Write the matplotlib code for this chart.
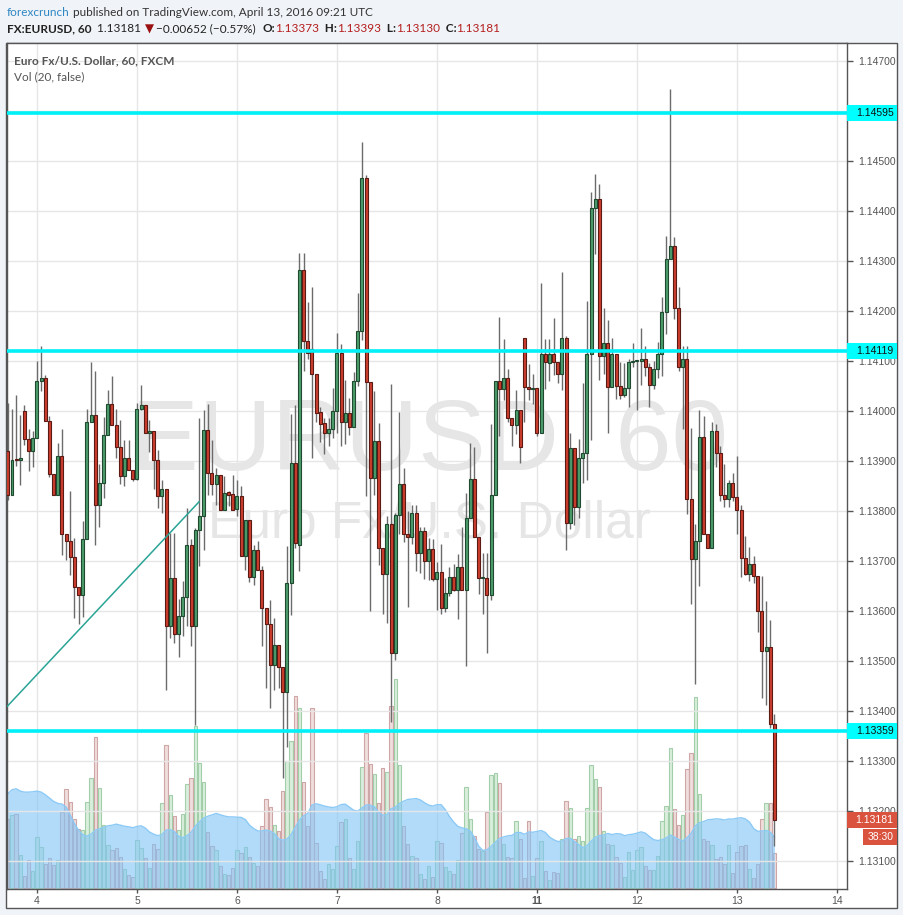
import matplotlib
matplotlib.use("Agg")
import matplotlib.pyplot as plt
import numpy as np
import pandas as pd
from matplotlib.patches import Rectangle
from matplotlib.transforms import blended_transform_factory

# EURUSD 60 min candles, Apr 3 17:00 .. Apr 13 09:00 UTC (weekend skipped)
opens = [1.13919, 1.13831, 1.13902, 1.13901, 1.14000, 1.13943, 1.13919, 1.13945, 1.14060, 1.14065,
         1.13980, 1.13873, 1.13831, 1.13910, 1.13753, 1.13739, 1.13707, 1.13647, 1.13631, 1.13743,
         1.13977, 1.13992, 1.13811, 1.13855, 1.13952, 1.14014, 1.13971, 1.13927, 1.13869, 1.13905,
         1.13882, 1.13863, 1.14004, 1.14012, 1.13955, 1.13959, 1.13901, 1.13829, 1.13843, 1.13570,
         1.13665, 1.13553, 1.13590, 1.13627, 1.13732, 1.13570, 1.13761, 1.13789, 1.13962, 1.13875,
         1.13853, 1.13872, 1.13801, 1.13837, 1.13834, 1.13803, 1.13829, 1.13709, 1.13782, 1.13667,
         1.13721, 1.13682, 1.13605, 1.13573, 1.13492, 1.13532, 1.13487, 1.13437, 1.13655, 1.13895,
         1.13732, 1.14282, 1.14139, 1.14123, 1.14074, 1.13997, 1.13975, 1.13956, 1.13963, 1.13999,
         1.14115, 1.13978, 1.13996, 1.13967, 1.14059, 1.14160, 1.14466, 1.14057, 1.13865, 1.13939,
         1.13725, 1.13673, 1.13773, 1.13515, 1.13792, 1.13854, 1.13753, 1.13747, 1.13795, 1.13716,
         1.13760, 1.13700, 1.13724, 1.13664, 1.13678, 1.13605, 1.13635, 1.13667, 1.13642, 1.13687,
         1.13642, 1.13785, 1.13863, 1.13747, 1.13665, 1.13665, 1.13631, 1.13831, 1.14059, 1.14044,
         1.14066, 1.13985, 1.13972, 1.14001, 1.14146, 1.14048, 1.14044, 1.14046, 1.13956, 1.14113,
         1.14096, 1.14114, 1.14098, 1.14073, 1.14145, 1.13776, 1.13925, 1.13807, 1.13905, 1.13915,
         1.14114, 1.14406, 1.14424, 1.14110, 1.14135, 1.14047, 1.14113, 1.14049, 1.14031, 1.14046,
         1.14098, 1.14100, 1.14100, 1.14103, 1.14088, 1.14051, 1.14083, 1.14114, 1.14197, 1.14303,
         1.14330, 1.14206, 1.14088, 1.14103, 1.13823, 1.13703, 1.13739, 1.13947, 1.13754, 1.13725,
         1.13959, 1.13915, 1.13831, 1.13823, 1.13856, 1.13827, 1.13801, 1.13705, 1.13674, 1.13694,
         1.13670, 1.13599, 1.13519, 1.13527, 1.13373]
highs = [1.14015, 1.14004, 1.14032, 1.13992, 1.14012, 1.13963, 1.13959, 1.14100, 1.14129, 1.14072,
         1.13989, 1.13873, 1.13935, 1.13963, 1.13753, 1.13840, 1.13745, 1.13647, 1.13780, 1.14004,
         1.14097, 1.14079, 1.13894, 1.13987, 1.14042, 1.14069, 1.14003, 1.13982, 1.13942, 1.13942,
         1.13882, 1.14015, 1.14052, 1.14012, 1.13982, 1.13959, 1.13922, 1.13862, 1.13843, 1.13755,
         1.13755, 1.13623, 1.13659, 1.13805, 1.13743, 1.13765, 1.13985, 1.14002, 1.14014, 1.13942,
         1.13885, 1.13872, 1.13869, 1.13839, 1.13872, 1.13862, 1.13849, 1.13782, 1.13782, 1.13732,
         1.13739, 1.13689, 1.13605, 1.13622, 1.13585, 1.13532, 1.13487, 1.13729, 1.13994, 1.14012,
         1.14316, 1.14315, 1.14217, 1.14248, 1.14074, 1.14007, 1.13985, 1.13985, 1.14045, 1.14155,
         1.14134, 1.14061, 1.14025, 1.14078, 1.14235, 1.14538, 1.14472, 1.14057, 1.14039, 1.13975,
         1.13725, 1.13790, 1.14054, 1.13796, 1.13997, 1.13885, 1.13800, 1.13811, 1.13811, 1.13767,
         1.13767, 1.13745, 1.13743, 1.13698, 1.13734, 1.13665, 1.13687, 1.13694, 1.13713, 1.13767,
         1.13836, 1.13936, 1.13928, 1.13747, 1.13716, 1.13716, 1.13974, 1.14059, 1.14188, 1.14143,
         1.14083, 1.13985, 1.14041, 1.14001, 1.14146, 1.14094, 1.14074, 1.14046, 1.14255, 1.14143,
         1.14144, 1.14186, 1.14098, 1.14277, 1.14149, 1.13956, 1.13925, 1.13943, 1.14055, 1.14219,
         1.14437, 1.14473, 1.14454, 1.14206, 1.14182, 1.14145, 1.14113, 1.14098, 1.14096, 1.14104,
         1.14135, 1.14100, 1.14166, 1.14129, 1.14096, 1.14100, 1.14137, 1.14228, 1.14349, 1.14644,
         1.14347, 1.14247, 1.14129, 1.14129, 1.13966, 1.13774, 1.14002, 1.13989, 1.13754, 1.13978,
         1.13974, 1.13929, 1.13894, 1.13861, 1.13876, 1.13910, 1.13812, 1.13750, 1.13727, 1.13710,
         1.13670, 1.13670, 1.13619, 1.13581, 1.13393]
lows = [1.13822, 1.13831, 1.13889, 1.13851, 1.13932, 1.13879, 1.13887, 1.13945, 1.14039, 1.13980,
        1.13867, 1.13831, 1.13831, 1.13711, 1.13702, 1.13671, 1.13585, 1.13574, 1.13587, 1.13743,
        1.13977, 1.13731, 1.13767, 1.13825, 1.13952, 1.13971, 1.13905, 1.13853, 1.13849, 1.13881,
        1.13859, 1.13862, 1.14002, 1.13955, 1.13917, 1.13843, 1.13805, 1.13795, 1.13441, 1.13545,
        1.13535, 1.13507, 1.13550, 1.13570, 1.13529, 1.13372, 1.13689, 1.13722, 1.13832, 1.13832,
        1.13812, 1.13801, 1.13801, 1.13809, 1.13802, 1.13789, 1.13709, 1.13682, 1.13657, 1.13652,
        1.13682, 1.13529, 1.13445, 1.13406, 1.13442, 1.13445, 1.13266, 1.13328, 1.13592, 1.13725,
        1.13680, 1.14079, 1.14104, 1.13905, 1.13978, 1.13938, 1.13914, 1.13930, 1.13945, 1.13956,
        1.13930, 1.13934, 1.13952, 1.13967, 1.14050, 1.14141, 1.13829, 1.13600, 1.13832, 1.13691,
        1.13594, 1.13575, 1.13377, 1.13502, 1.13753, 1.13738, 1.13607, 1.13734, 1.13680, 1.13676,
        1.13664, 1.13662, 1.13660, 1.13602, 1.13593, 1.13597, 1.13629, 1.13640, 1.13584, 1.13642,
        1.13490, 1.13785, 1.13747, 1.13633, 1.13594, 1.13515, 1.13622, 1.13831, 1.13950, 1.14021,
        1.13978, 1.13930, 1.13954, 1.13895, 1.13978, 1.14021, 1.14014, 1.13950, 1.13956, 1.14044,
        1.14060, 1.14072, 1.14055, 1.14041, 1.13721, 1.13763, 1.13772, 1.13785, 1.13856, 1.13861,
        1.13941, 1.14314, 1.14062, 1.14073, 1.13955, 1.14047, 1.14024, 1.14024, 1.14027, 1.14007,
        1.14088, 1.14002, 1.14051, 1.14070, 1.14008, 1.14043, 1.14065, 1.14070, 1.14153, 1.14303,
        1.14184, 1.14080, 1.13964, 1.13794, 1.13613, 1.13453, 1.13649, 1.13754, 1.13725, 1.13725,
        1.13888, 1.13819, 1.13807, 1.13807, 1.13819, 1.13754, 1.13668, 1.13672, 1.13660, 1.13656,
        1.13558, 1.13425, 1.13411, 1.13365, 1.13130]
closes = [1.13831, 1.13902, 1.13901, 1.13905, 1.13943, 1.13919, 1.13945, 1.14060, 1.14065, 1.13980,
          1.13873, 1.13831, 1.13910, 1.13753, 1.13739, 1.13707, 1.13647, 1.13631, 1.13743, 1.13977,
          1.13992, 1.13811, 1.13855, 1.13952, 1.14014, 1.13971, 1.13927, 1.13869, 1.13905, 1.13881,
          1.13863, 1.14004, 1.14012, 1.13955, 1.13960, 1.13901, 1.13829, 1.13843, 1.13570, 1.13665,
          1.13553, 1.13590, 1.13627, 1.13732, 1.13570, 1.13761, 1.13789, 1.13962, 1.13875, 1.13853,
          1.13872, 1.13801, 1.13835, 1.13832, 1.13802, 1.13829, 1.13709, 1.13782, 1.13667, 1.13721,
          1.13682, 1.13605, 1.13573, 1.13492, 1.13532, 1.13487, 1.13437, 1.13655, 1.13895, 1.13735,
          1.14282, 1.14139, 1.14115, 1.14074, 1.13996, 1.13974, 1.13956, 1.13963, 1.13999, 1.14115,
          1.13978, 1.13996, 1.13967, 1.14059, 1.14160, 1.14466, 1.14057, 1.13865, 1.13939, 1.13725,
          1.13673, 1.13773, 1.13515, 1.13792, 1.13854, 1.13753, 1.13747, 1.13795, 1.13716, 1.13760,
          1.13700, 1.13724, 1.13664, 1.13678, 1.13605, 1.13635, 1.13667, 1.13642, 1.13687, 1.13642,
          1.13785, 1.13863, 1.13747, 1.13665, 1.13665, 1.13631, 1.13831, 1.14059, 1.14044, 1.14066,
          1.13985, 1.13972, 1.14001, 1.13927, 1.14048, 1.14044, 1.14046, 1.13956, 1.14113, 1.14097,
          1.14114, 1.14098, 1.14073, 1.14145, 1.13776, 1.13925, 1.13807, 1.13905, 1.13915, 1.14114,
          1.14406, 1.14424, 1.14110, 1.14135, 1.14047, 1.14113, 1.14049, 1.14031, 1.14046, 1.14098,
          1.14100, 1.14100, 1.14103, 1.14088, 1.14051, 1.14083, 1.14114, 1.14197, 1.14303, 1.14330,
          1.14206, 1.14088, 1.14103, 1.13823, 1.13703, 1.13739, 1.13947, 1.13754, 1.13725, 1.13959,
          1.13915, 1.13831, 1.13823, 1.13856, 1.13827, 1.13801, 1.13705, 1.13674, 1.13694, 1.13670,
          1.13599, 1.13519, 1.13527, 1.13373, 1.13181]
volumes = [208, 220, 223, 100, 37, 85, 52, 154, 124, 73,
           89, 68, 85, 227, 298, 259, 208, 178, 173, 257,
           331, 455, 301, 190, 130, 115, 121, 94, 58, 40,
           34, 145, 121, 89, 61, 133, 118, 254, 431, 278,
           217, 175, 221, 311, 331, 487, 376, 319, 169, 127,
           115, 67, 43, 40, 59, 115, 106, 124, 94, 76,
           67, 187, 268, 244, 190, 172, 292, 382, 442, 577,
           541, 319, 187, 541, 136, 52, 28, 73, 58, 127,
           197, 208, 89, 58, 140, 364, 466, 373, 343, 254,
           361, 349, 547, 628, 368, 185, 133, 97, 89, 43,
           26, 67, 34, 140, 136, 64, 52, 43, 85, 166,
           304, 208, 157, 116, 110, 227, 338, 346, 316, 133,
           94, 91, 202, 148, 29, 200, 37, 91, 140, 52,
           25, 49, 46, 146, 262, 241, 146, 157, 140, 241,
           368, 328, 304, 172, 133, 130, 94, 76, 34, 109,
           55, 113, 124, 67, 55, 55, 97, 202, 247, 422,
           238, 190, 220, 358, 404, 575, 281, 148, 140, 130,
           88, 94, 73, 130, 46, 109, 127, 130, 58, 31,
           73, 208, 254, 254, 106]
# volume MA for the first 19 bars (earlier bars are off screen)
vol_ma_head = [283, 295, 298, 291, 288, 288, 289, 291, 288, 280,
               270, 260, 254, 252, 243, 218, 193, 173, 160]

levels = [1.14595, 1.14119, 1.13359]
trend_x = [-7.5, 38.9]
trend_y = [1.13406, 1.13818]
day_labels = ['4', '5', '6', '7', '8', '11', '12', '13', '14']
price_ticks = [1.131, 1.132, 1.133, 1.134, 1.135, 1.136, 1.137, 1.138, 1.139,
               1.140, 1.141, 1.142, 1.143, 1.144, 1.145, 1.146, 1.147]
hidden_ticks = [1.146]  # covered by the 1.14595 label

W, H = 904, 915
idx = np.arange(len(closes)) - 7  # hours from Apr 4 00:00 (trading hours only)
o = np.array(opens)
c = np.array(closes)
up = c >= o

vol = pd.Series(volumes, dtype=float)
vol_ma = vol.rolling(20).mean()
vol_ma.iloc[:len(vol_ma_head)] = vol_ma_head

fig = plt.figure(figsize=(W / 100, H / 100), dpi=100)
fig.patch.set_facecolor('#f0f3f7')

def fx(px):
    return px / W

def fy(py):
    return 1 - py / H

# chart panel (price scale + time scale)
fig.add_artist(Rectangle((fx(6), fy(908)), fx(897) - fx(6), fy(43) - fy(908),
                         transform=fig.transFigure, facecolor='white',
                         edgecolor='#555555', lw=1, zorder=0))

rect = [fx(7), fy(889), fx(847) - fx(7), fy(43) - fy(889)]
ax_v = fig.add_axes(rect)
ax = fig.add_axes(rect, sharex=ax_v)
ax.patch.set_alpha(0)

xlim = (-7.2, 194.4)
ylim = (1.13044, 1.14735)

# ---- volume pane (bottom layer) ----
ax_v.set_xlim(*xlim)
ax_v.set_ylim(-3, 2538)
ax_v.set_yticks([])
for s in ax_v.spines.values():
    s.set_visible(False)
ax_v.tick_params(axis='x', length=0, labelbottom=False)
ax_v.set_xticks(np.arange(0, 24 * 9, 24))
ax_v.grid(axis='x', color='#e6e6e6', lw=1)
ax_v.set_axisbelow(True)

vfill = np.where(up, '#d9eedc', '#f0dddd')
vedge = np.where(up, '#a2cfa9', '#cfa6a6')
ax_v.bar(idx, volumes, width=0.8, color=vfill, edgecolor=vedge, lw=0.8, zorder=2)
ax_v.fill_between(idx, 0, vol_ma.values, color='#7fc4f8', alpha=0.6, lw=0, zorder=3)
ax_v.plot(idx, vol_ma.values, color='#8ccaf6', lw=1, zorder=3)

# watermark
ax_v.text(0.5024, 0.495, 'EURUSD, 60', transform=ax_v.transAxes, ha='center', va='baseline',
          fontsize=73, color='#e6e6e6', family='Liberation Sans', zorder=1)
ax_v.text(0.503, 0.415, 'Euro Fx/U.S. Dollar', transform=ax_v.transAxes, ha='center',
          va='baseline', fontsize=37, color='#e6e6e6', family='Liberation Sans', zorder=1)

# ---- price pane ----
ax.set_xlim(*xlim)
ax.set_ylim(*ylim)
for y in price_ticks:
    ax.axhline(y, color='#e6e6e6', lw=1, zorder=0.5)

ax.vlines(idx, lows, highs, color='#6b6b6b', lw=1, zorder=3)
body_lo = np.minimum(o, c)
body_h = np.maximum(np.abs(c - o), 0.00002)
ax.bar(idx, body_h, bottom=body_lo, width=0.72,
       color=np.where(up, '#4d9c6c', '#cc3f2e'),
       edgecolor=np.where(up, '#1f4a30', '#5c1a14'), lw=0.8, zorder=4)

for lv in levels:
    ax.axhline(lv, color='#00f0f8', lw=2.6, zorder=5)
ax.plot(trend_x, trend_y, color='#2aa495', lw=1.1, zorder=5)

ax.yaxis.tick_right()
ax.set_yticks(price_ticks)
ax.set_yticklabels(['' if t in hidden_ticks else '%.5f' % t for t in price_ticks])
ax.tick_params(axis='y', direction='out', length=4, width=1, pad=4,
               labelsize=7.5, colors='#555555')
ax.set_xticks(np.arange(0, 24 * 9, 24))
ax.set_xticklabels(day_labels)
ax.tick_params(axis='x', direction='out', length=3, width=1, pad=2,
               labelsize=7.5, colors='#555555')
for lab in ax.get_xticklabels():
    if lab.get_text() == '11':
        lab.set_fontweight('bold')
for lab in ax.get_yticklabels() + ax.get_xticklabels():
    lab.set_family('Liberation Sans')
for s in ax.spines.values():
    s.set_color('#555555')
    s.set_linewidth(1)

# price labels on the scale
tr = blended_transform_factory(ax.transAxes, ax.transData)
bw = 50 / 840
bh = 16 * (ylim[1] - ylim[0]) / 846

def price_box(val, face, tcolor, text=None, y=None, x0=1.0, w=bw):
    y = val if y is None else y
    ax.add_patch(Rectangle((x0, y - bh / 2), w, bh, transform=tr, facecolor=face,
                           edgecolor='none', clip_on=False, zorder=10))
    ax.text(x0 + w - 0.004, y, text or '%.5f' % val, transform=tr, ha='right', va='center',
            fontsize=7.5, color=tcolor, family='Liberation Sans', clip_on=False, zorder=11)

for lv in levels:
    price_box(lv, '#00ffff', '#111111')
last = closes[-1]
price_box(last, '#d9533f', 'white')
price_box(last, '#d9533f', 'white', text='38:30', y=last - bh * 1.02,
          x0=1 + 16 / 840, w=34 / 840)

# ---- header ----
renderer = fig.canvas.get_renderer()

def rich(x, y, parts, size=8):
    for txt, col, wt in parts:
        t = fig.text(fx(x), fy(y), txt, color=col, fontweight=wt, fontsize=size,
                     va='center', ha='left', family=['Lato', 'DejaVu Sans'])
        x += t.get_window_extent(renderer).width

rich(7, 12, [('forexcrunch', '#2d86c4', 'normal'),
             (' published on TradingView.com, April 13, 2016 09:21 UTC', '#333333', 'normal')], 8.5)
red = '#b51f1f'
rich(7, 29, [('FX:EURUSD, 60', '#222222', 'bold'),
             ('  1.13181 ', '#222222', 'normal'), ('\u25bc', '#9a1010', 'normal'),
             (' \u22120.00652 (\u22120.57%)  ', '#222222', 'normal'),
             ('O:', '#222222', 'bold'), ('1.13373', red, 'normal'),
             ('  H:', '#222222', 'bold'), ('1.13393', red, 'normal'),
             ('  L:', '#222222', 'bold'), ('1.13130', red, 'normal'),
             ('  C:', '#222222', 'bold'), ('1.13181', red, 'normal')], 8.5)

rich(14, 61, [('Euro Fx/U.S. Dollar, 60, FXCM', '#555555', 'bold')], 8.5)
rich(14, 77, [('Vol (20, false)', '#555555', 'normal')], 8.5)

fig.savefig('out.png', dpi=100, facecolor=fig.get_facecolor())
